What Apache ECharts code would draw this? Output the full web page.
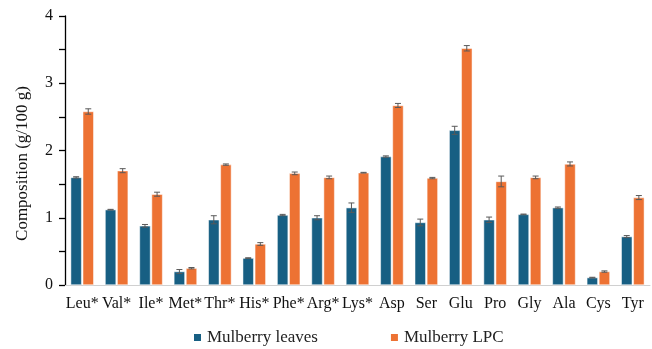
<!DOCTYPE html>
<html><head><meta charset="utf-8">
<script src="https://cdn.jsdelivr.net/npm/echarts@6/dist/echarts.min.js"></script>
<style>html,body{margin:0;padding:0;background:#fff}#c{width:652px;height:349px}</style>
</head><body><div id="c"></div>
<script>
const categories = ['Leu*','Val*','Ile*','Met*','Thr*','His*','Phe*','Arg*','Lys*','Asp','Ser','Glu','Pro','Gly','Ala','Cys','Tyr'];
const leaves = [1.60,1.12,0.88,0.20,0.97,0.40,1.04,1.00,1.15,1.91,0.93,2.30,0.97,1.05,1.15,0.11,0.72];
const leavesErr = [0.01,0.005,0.02,0.03,0.06,0.005,0.01,0.03,0.07,0.01,0.05,0.06,0.04,0.005,0.01,0.005,0.015];
const lpc = [2.58,1.70,1.35,0.25,1.79,0.61,1.66,1.60,1.67,2.67,1.59,3.52,1.54,1.60,1.80,0.20,1.30];
const lpcErr = [0.04,0.03,0.03,0.01,0.01,0.02,0.02,0.02,0.005,0.03,0.01,0.04,0.08,0.02,0.03,0.01,0.03];
const seriesNames = ['Mulberry leaves','Mulberry LPC'];
const colors = ['#175f83','#ed7233'];
const FONT = '"Liberation Serif","Times New Roman",serif';
const BW = 11;

function errSeries(vals, errs, offset){
  return {
    type:'custom', silent:true, z:5,
    data: vals.map((v,i)=>[i, v - errs[i], v + errs[i]]),
    renderItem: function(params, api){
      const lo = api.coord([api.value(0), api.value(1)]);
      const hi = api.coord([api.value(0), api.value(2)]);
      const x = lo[0] + offset;
      const cap = 3;
      const st = {stroke:'#595959', lineWidth:1};
      return {type:'group', children:[
        {type:'line', shape:{x1:x,y1:lo[1],x2:x,y2:hi[1]}, style:st},
        {type:'line', shape:{x1:x-cap,y1:lo[1],x2:x+cap,y2:lo[1]}, style:st},
        {type:'line', shape:{x1:x-cap,y1:hi[1],x2:x+cap,y2:hi[1]}, style:st}
      ]};
    }
  };
}

const chart = echarts.init(document.getElementById('c'));
chart.setOption({
  animation:false,
  grid:{left:65, right:2, top:16, bottom:64},
  legend:{
    top:324, left:187, itemWidth:9, itemHeight:9, itemGap:71,
    icon:'rect',
    textStyle:{fontFamily:FONT, fontSize:17, color:'#222'},
    data: seriesNames
  },
  xAxis:{
    type:'category', data:categories,
    axisLine:{lineStyle:{color:'#d0d0d0'}},
    axisTick:{show:false},
    axisLabel:{fontFamily:FONT, fontSize:16, color:'#111', margin:11, interval:0}
  },
  yAxis:{
    type:'value', min:0, max:4, interval:1,
    name:'Composition (g/100 g)', nameLocation:'middle', nameGap:34,
    nameTextStyle:{fontFamily:FONT, fontSize:17, color:'#111', padding:[0,26,0,0]},
    axisLine:{show:true, lineStyle:{color:'#000', width:1.3}},
    axisTick:{show:true, length:6, lineStyle:{color:'#000', width:1.3}},
    minorTick:{show:true, splitNumber:2, length:6, lineStyle:{color:'#000', width:1.3}},
    splitLine:{show:false},
    axisLabel:{fontFamily:FONT, fontSize:16, color:'#111', margin:12}
  },
  series:[
    {name:seriesNames[0], type:'bar', data:leaves, barWidth:BW, barGap:'10%',
     itemStyle:{color:colors[0], borderColor:'#fff', borderWidth:0.5}},
    {name:seriesNames[1], type:'bar', data:lpc, barWidth:BW, barGap:'10%',
     itemStyle:{color:colors[1], borderColor:'#fff', borderWidth:0.5}},
    errSeries(leaves, leavesErr, -(BW*1.1)/2),
    errSeries(lpc, lpcErr, (BW*1.1)/2)
  ]
});
</script></body></html>
